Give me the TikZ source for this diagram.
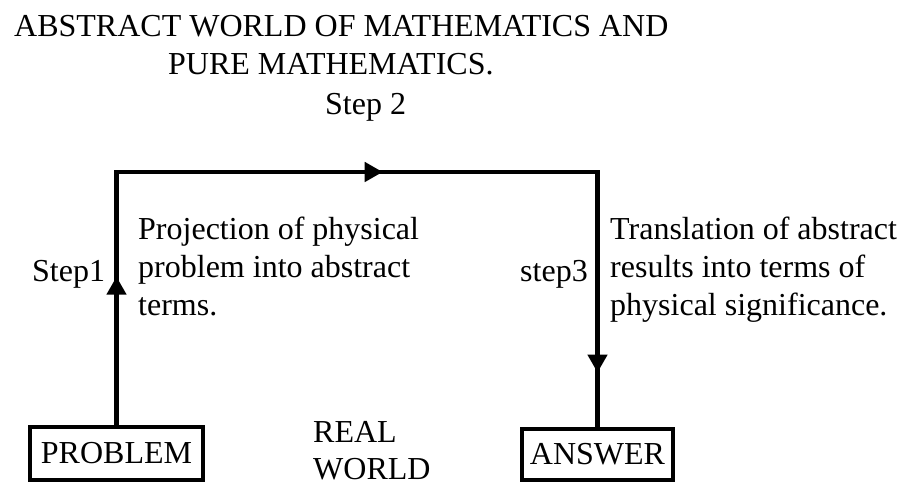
\documentclass[tikz,border=0pt]{standalone}
\usepackage{fontspec}
\setmainfont{Liberation Serif}
\usetikzlibrary{arrows.meta,decorations.markings}
\begin{document}
\begin{tikzpicture}[x=1pt,y=-1pt,
  txt/.style={inner sep=0pt,anchor=base west,font=\rmfamily\fontsize{32}{38.5}\selectfont,align=left},
  boxnode/.style={draw,line width=4pt,inner sep=0pt,font=\rmfamily\fontsize{32}{38.5}\selectfont},
  flow/.style={line width=4.5pt,line join=miter,
    decoration={markings,
      mark=at position 0.15 with {\arrow{Triangle[length=18pt,width=19pt]}},
      mark=at position 0.525 with {\arrow{Triangle[length=18pt,width=19pt]}},
      mark=at position 0.945 with {\arrow{Triangle[length=18pt,width=19pt]}}},
    postaction={decorate}}]
\useasboundingbox (0,0) rectangle (908,489);
\node[txt] (t1) at (14,37) {ABSTRACT WORLD OF MATHEMATICS AND};
\node[txt] (t2) at (168,75) {PURE MATHEMATICS.};
\node[txt] (s2) at (325,115) {Step 2};
\node[txt] (s1) at (32,282) {Step1};
\node[txt] (s3) at (520,282) {step3};
\node[txt] (d1) at (138,316) {Projection of physical\\problem into abstract\\terms.};
\node[txt] (d3) at (610,316) {Translation of abstract\\results into terms of\\physical significance.};
\node[txt,text depth=0pt,font=\rmfamily\fontsize{32}{37}\selectfont] (rw) at (313,479) {REAL\\WORLD};
\node[boxnode,minimum width=173pt,minimum height=53pt] (prob) at (116.5,453.5) {PROBLEM};
\node[boxnode,minimum width=151pt,minimum height=51pt] (ans) at (597.5,454.5) {ANSWER};
\coordinate (top) at (0,172);
\draw[flow] (prob.north) -- (prob.north |- top) -- (ans.north |- top) -- (ans.north);
\end{tikzpicture}
\end{document}
